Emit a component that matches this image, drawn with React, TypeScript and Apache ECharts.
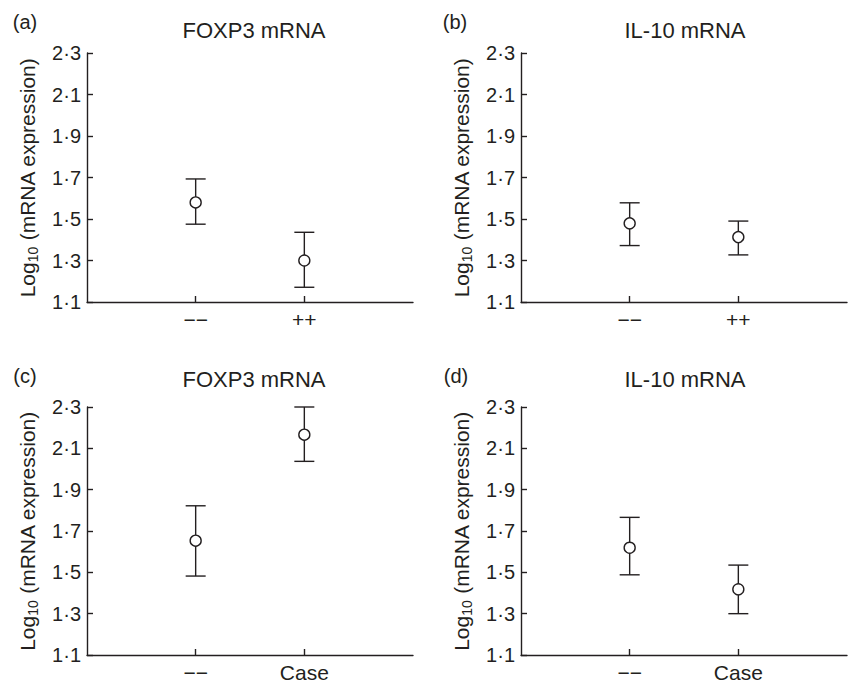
import React, { useEffect, useRef } from 'react';
import * as echarts from 'echarts';

const panelLetters = ['(a)', '(b)', '(c)', '(d)'];
const panelTitles = ['FOXP3 mRNA', 'IL-10 mRNA', 'FOXP3 mRNA', 'IL-10 mRNA'];
const topCategories = ['−−', '++'];
const bottomCategories = ['−−', 'Case'];
const yTickValues = [1.1, 1.3, 1.5, 1.7, 1.9, 2.1, 2.3];

// (a) FOXP3 mRNA, −− vs ++
const aMean = [1.58, 1.3];
const aLow = [1.475, 1.171];
const aHigh = [1.693, 1.436];
// (b) IL-10 mRNA, −− vs ++
const bMean = [1.479, 1.413];
const bLow = [1.372, 1.327];
const bHigh = [1.578, 1.49];
// (c) FOXP3 mRNA, −− vs Case
const cMean = [1.653, 2.166];
const cLow = [1.482, 2.037];
const cHigh = [1.822, 2.3];
// (d) IL-10 mRNA, −− vs Case
const dMean = [1.619, 1.418];
const dLow = [1.488, 1.3];
const dHigh = [1.766, 1.535];

const INK = '#231f20';
const FONT = '"Liberation Sans", Arial, Helvetica, sans-serif';

const panels = [
  { cats: topCategories, mean: aMean, low: aLow, high: aHigh },
  { cats: topCategories, mean: bMean, low: bLow, high: bHigh },
  { cats: bottomCategories, mean: cMean, low: cLow, high: cHigh },
  { cats: bottomCategories, mean: dMean, low: dLow, high: dHigh },
];

const grids = [
  { left: 87, top: 53, width: 326, height: 249 },
  { left: 521, top: 53, width: 326, height: 249 },
  { left: 87, top: 407, width: 326, height: 248 },
  { left: 521, top: 407, width: 326, height: 248 },
];

const letterPos = [
  [25, 22],
  [455, 22],
  [25, 376],
  [456, 376],
];
const titlePos = [
  [254, 30],
  [685, 30],
  [254, 379],
  [685, 379],
];

export default function App() {
  const ref = useRef<HTMLDivElement>(null);
  useEffect(() => {
    if (!ref.current) return;
    const chart = echarts.init(ref.current, null, { renderer: 'svg' });
    const lineStyle = { color: INK, width: 1.4 };

    const xAxis = panels.map((p, i) => ({
      type: 'value',
      gridIndex: i,
      min: 0,
      max: 3,
      axisLine: { show: true, onZero: false, lineStyle },
      axisTick: { show: true, inside: true, length: 6, customValues: [1, 2], lineStyle },
      axisLabel: {
        customValues: [1, 2],
        formatter: (v: number) => p.cats[Math.round(v) - 1] ?? '',
        margin: 7,
        fontSize: 21,
        color: INK,
        fontFamily: FONT,
      },
      splitLine: { show: false },
    }));

    const yAxis = panels.map((_, i) => ({
      type: 'value',
      gridIndex: i,
      min: 1.1,
      max: 2.3,
      axisLine: { show: true, onZero: false, lineStyle },
      axisTick: { show: true, inside: true, length: 6, customValues: yTickValues, lineStyle },
      axisLabel: {
        customValues: yTickValues,
        formatter: (v: number) => v.toFixed(1).replace('.', '·'),
        margin: 6,
        fontSize: 20,
        color: INK,
        fontFamily: FONT,
      },
      splitLine: { show: false },
      name: '{a|Log}{s|10}{a| (mRNA expression)}',
      nameLocation: 'middle',
      nameGap: 47,
      nameTextStyle: {
        color: INK,
        fontFamily: FONT,
        rich: {
          a: { fontSize: 21, lineHeight: 25, color: INK, fontFamily: FONT },
          s: { fontSize: 14, lineHeight: 14, verticalAlign: 'bottom', color: INK, fontFamily: FONT },
        },
      },
    }));

    const series: any[] = [];
    panels.forEach((p, i) => {
      series.push({
        type: 'custom',
        xAxisIndex: i,
        yAxisIndex: i,
        encode: { x: 0, y: [1, 2] },
        data: p.cats.map((_, j) => [j + 1, p.low[j], p.high[j]]),
        renderItem: (params: any, api: any) => {
          const x = api.value(0);
          const top = api.coord([x, api.value(2)]);
          const bot = api.coord([x, api.value(1)]);
          const hw = 10;
          const style = { stroke: INK, lineWidth: 1.4, fill: null };
          return {
            type: 'group',
            children: [
              { type: 'line', shape: { x1: top[0], y1: top[1], x2: bot[0], y2: bot[1] }, style },
              { type: 'line', shape: { x1: top[0] - hw, y1: top[1], x2: top[0] + hw, y2: top[1] }, style },
              { type: 'line', shape: { x1: bot[0] - hw, y1: bot[1], x2: bot[0] + hw, y2: bot[1] }, style },
            ],
          };
        },
        z: 2,
      });
      series.push({
        type: 'scatter',
        xAxisIndex: i,
        yAxisIndex: i,
        data: p.cats.map((_, j) => [j + 1, p.mean[j]]),
        symbol: 'circle',
        symbolSize: 11,
        itemStyle: { color: '#ffffff', borderColor: INK, borderWidth: 1.4, opacity: 1 },
        z: 3,
      });
    });

    const graphic: any[] = [];
    panels.forEach((_, i) => {
      graphic.push({
        type: 'text',
        x: letterPos[i][0],
        y: letterPos[i][1],
        style: {
          text: panelLetters[i],
          fontSize: 20,
          fontFamily: FONT,
          fill: INK,
          textAlign: 'center',
          textVerticalAlign: 'middle',
        },
      });
      graphic.push({
        type: 'text',
        x: titlePos[i][0],
        y: titlePos[i][1],
        style: {
          text: panelTitles[i],
          fontSize: 22,
          fontFamily: FONT,
          fill: INK,
          textAlign: 'center',
          textVerticalAlign: 'middle',
        },
      });
    });

    chart.setOption({
      animation: false,
      backgroundColor: '#ffffff',
      grid: grids.map((g) => ({ ...g, containLabel: false })),
      xAxis,
      yAxis,
      series,
      graphic,
    } as any);
    return () => chart.dispose();
  }, []);

  return (
    <div
      ref={ref}
      style={{ position: 'absolute', left: 0, top: 0, width: 849, height: 683 }}
    />
  );
}
